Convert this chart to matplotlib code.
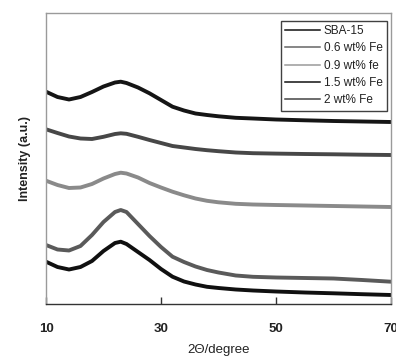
import matplotlib
matplotlib.use("Agg")
import matplotlib.pyplot as plt
from matplotlib.lines import Line2D

two_theta = [10, 12, 14, 16, 18, 20, 22, 23, 24, 26, 28, 30, 32, 34, 36, 38, 40, 43, 46, 50, 55, 60, 65, 70]

sba15 = [212.3, 207.0, 204.5, 207.0, 212.0, 217.5, 221.5, 222.3, 221.0, 216.5, 210.7, 204.0,
         197.3, 193.5, 190.5, 189.0, 187.7, 186.2, 185.5, 184.5, 183.7, 183.0, 182.5, 182.0]
fe06 = [174.7, 171.0, 167.5, 165.5, 165.0, 167.2, 170.0, 170.7, 170.2, 167.2, 164.0, 161.0,
        158.0, 156.5, 155.0, 153.8, 152.8, 151.5, 150.8, 150.4, 150.0, 149.7, 149.3, 149.0]
fe09 = [123.3, 119.0, 116.0, 116.5, 120.0, 125.5, 130.0, 131.3, 130.5, 126.5, 121.0, 116.5,
        112.3, 108.7, 105.5, 103.2, 101.7, 100.2, 99.5, 99.0, 98.5, 98.0, 97.5, 97.0]
fe15 = [59.0, 54.5, 53.5, 58.0, 69.0, 82.0, 92.0, 94.0, 92.0, 80.0, 68.0, 57.0,
        47.3, 42.0, 37.5, 34.0, 31.5, 28.5, 27.2, 26.5, 26.0, 25.5, 24.0, 22.3]
fe20 = [42.3, 37.0, 34.5, 37.0, 43.0, 53.0, 61.0, 62.3, 60.0, 52.0, 44.0, 35.0,
        27.3, 22.5, 19.5, 17.2, 16.0, 14.5, 13.5, 12.5, 11.5, 10.7, 9.8, 9.0]

series = [sba15, fe06, fe09, fe15, fe20]
curve_colors = ["#151515", "#474747", "#8a8a8a", "#5a5a5a", "#101010"]

legend_labels = ["SBA-15", "0.6 wt% Fe", "0.9 wt% fe", "1.5 wt% Fe", "2 wt% Fe"]
legend_colors = ["#111111", "#666666", "#9a9a9a", "#111111", "#444444"]

x_ticks = [10, 30, 50, 70]

fig = plt.figure(figsize=(3.96, 3.56), dpi=100)
ax = fig.add_axes([46/396, 1-304/356, 345/396, 291/356])

for ys, c in zip(series, curve_colors):
    ax.plot(two_theta, ys, color=c, lw=2.8, solid_joinstyle="round",
            solid_capstyle="round")

ax.set_xlim(10, 70)
ax.set_ylim(0, 291)
ax.set_xticks(x_ticks)
ax.set_xticklabels([str(t) for t in x_ticks], fontfamily="Liberation Sans",
                   fontweight="bold", fontsize=9.5, color="#222222")
ax.set_yticks([])
ax.tick_params(axis="x", direction="in", length=5, width=1, color="#333333", pad=14)

for side in ["left", "top", "right"]:
    ax.spines[side].set_color("#9a9a9a")
    ax.spines[side].set_linewidth(1.0)
ax.spines["bottom"].set_color("#333333")
ax.spines["bottom"].set_linewidth(1.0)

ax.set_xlabel("2\u0398/degree", fontfamily="Liberation Sans", fontsize=9.5,
              color="#222222", labelpad=6)
ax.set_ylabel("Intensity (a.u.)", fontfamily="Liberation Sans", fontweight="bold",
              fontsize=9, color="#222222", labelpad=11)

handles = [Line2D([0], [0], color=c, lw=1.1) for c in legend_colors]
leg = ax.legend(handles, legend_labels, loc="upper right",
                bbox_to_anchor=(0.988, 0.9725), frameon=True, fancybox=False,
                handlelength=3.0, handletextpad=0.3, labelspacing=0.45,
                borderpad=0.35, borderaxespad=0,
                prop={"family": "Liberation Sans", "size": 8.5})
leg.get_frame().set_edgecolor("#111111")
leg.get_frame().set_linewidth(1.0)
for t in leg.get_texts():
    t.set_color("#222222")

fig.savefig("out.png", dpi=100)
